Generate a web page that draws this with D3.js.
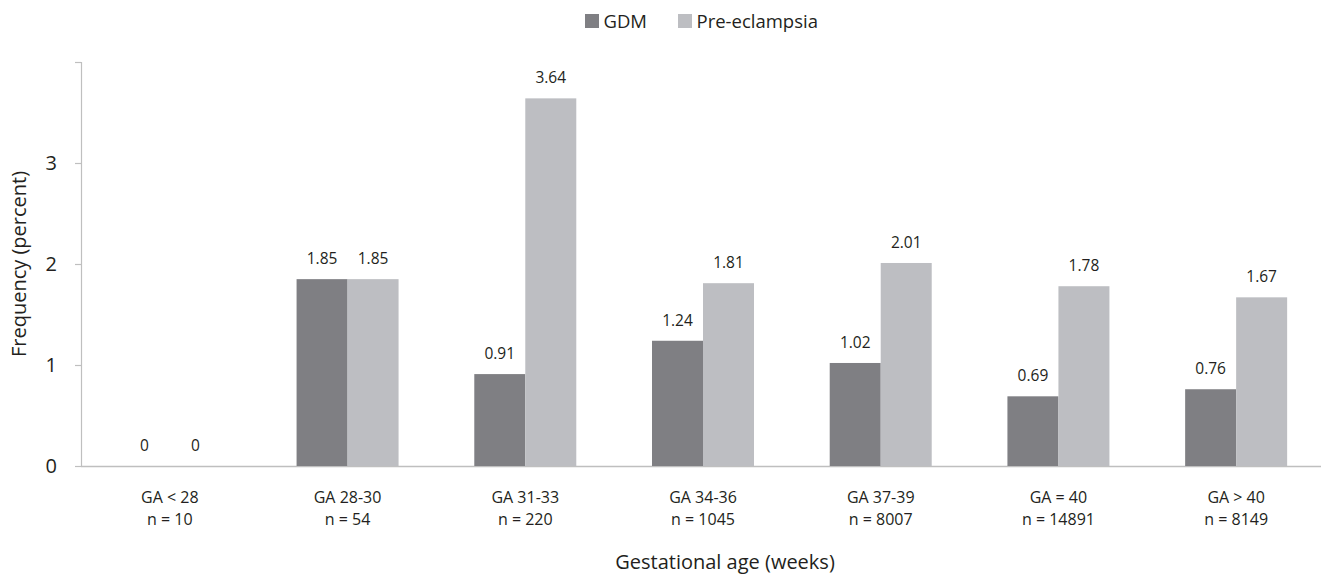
<!DOCTYPE html>
<html><head><meta charset="utf-8">
<script src="https://cdn.jsdelivr.net/npm/d3@7"></script>
<style>body{margin:0;background:#fff}svg{display:block}text{font-family:"Open Sans",sans-serif;fill:#231f20}</style>
</head><body><svg id="c" width="1321" height="576"></svg>
<script>
const categories = ["GA < 28","GA 28-30","GA 31-33","GA 34-36","GA 37-39","GA = 40","GA > 40"];
const sampleSizes = ["n = 10","n = 54","n = 220","n = 1045","n = 8007","n = 14891","n = 8149"];
const seriesNames = ["GDM","Pre-eclampsia"];
const gdm = [0,1.85,0.91,1.24,1.02,0.69,0.76];
const preeclampsia = [0,1.85,3.64,1.81,2.01,1.78,1.67];
const yTicks = [0,1,2,3,4];
const colors = ["#7f7f83","#bdbec2"];

const svg = d3.select("#c");
const pLeft = 81, pRight = 1325, pTop = 62, pBottom = 466;
const x = d3.scaleBand().domain(categories).range([pLeft,pRight]).paddingInner(0).paddingOuter(0);
const y = d3.scaleLinear().domain([0,4]).range([pBottom,pTop]);
const barW = 51;
const sub = d3.scaleBand().domain(seriesNames).range([0,barW*2]);

// axes
svg.append("line").attr("x1",pLeft+0.5).attr("x2",pLeft+0.5).attr("y1",pTop).attr("y2",pBottom).attr("stroke","#bfbfbf").attr("stroke-width",1.2);
svg.append("line").attr("x1",pLeft).attr("x2",1321).attr("y1",pBottom+0.5).attr("y2",pBottom+0.5).attr("stroke","#bfbfbf").attr("stroke-width",1.5);
const yg = svg.append("g");
yTicks.forEach(t=>{
  yg.append("line").attr("x1",pLeft-6).attr("x2",pLeft).attr("y1",y(t)+0.5).attr("y2",y(t)+0.5).attr("stroke","#bfbfbf").attr("stroke-width",1.2);
  if(t<4) yg.append("text").attr("x",57).attr("y",y(t)).attr("dy","0.36em").attr("text-anchor","end").attr("font-size",20).text(t);
});

const data = categories.map((c,i)=>({c,i,vals:[gdm[i],preeclampsia[i]]}));
const g = svg.append("g");
data.forEach(d=>{
  const cx = x(d.c)+x.bandwidth()/2;
  d.vals.forEach((v,j)=>{
    const bx = cx - barW + sub(seriesNames[j]);
    g.append("rect").attr("x",bx).attr("y",y(v)).attr("width",barW).attr("height",pBottom-y(v)).attr("fill",colors[j]);
    g.append("text").attr("x",bx+barW/2).attr("y",y(v)-15).attr("text-anchor","middle").attr("font-size",15.5).text(v===0?"0":v.toFixed(2));
  });
  svg.append("text").attr("x",cx).attr("y",503).attr("text-anchor","middle").attr("font-size",16).text(d.c);
  svg.append("text").attr("x",cx).attr("y",525).attr("text-anchor","middle").attr("font-size",16).text(sampleSizes[d.i]);
});

// titles
svg.append("text").attr("transform","translate(26,264) rotate(-90)").attr("text-anchor","middle").attr("font-size",20).text("Frequency (percent)");
svg.append("text").attr("x",725).attr("y",569).attr("text-anchor","middle").attr("font-size",20).text("Gestational age (weeks)");

// legend
const leg = [{n:seriesNames[0],x:585},{n:seriesNames[1],x:678}];
leg.forEach((l,i)=>{
  svg.append("rect").attr("x",l.x).attr("y",14).attr("width",14).attr("height",14).attr("fill",colors[i]);
  svg.append("text").attr("x",l.x+18.5).attr("y",21).attr("dy","0.36em").attr("font-size",18.5).text(l.n);
});
</script></body></html>
